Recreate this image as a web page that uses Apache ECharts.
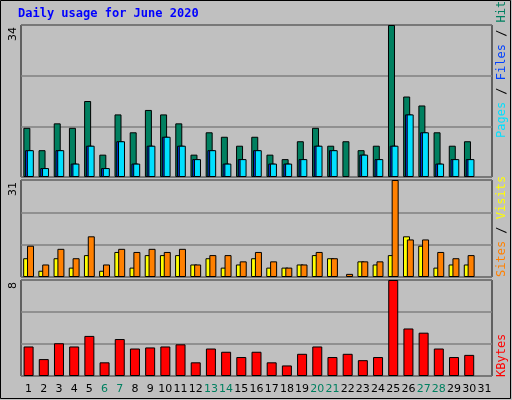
<!DOCTYPE html>
<html><head><meta charset="utf-8">
<script src="https://cdn.jsdelivr.net/npm/echarts@6/dist/echarts.min.js"></script>
<style>html,body{margin:0;padding:0;background:#c0c0c0}#c{width:512px;height:400px}</style>
</head><body><div id="c"></div>
<script>
const days = Array.from({length:31},(_,i)=>String(i+1));
const weekend = ['6','7','13','14','20','21','27','28'];
const hits  = [11,6,12,11,17,5,14,10,15,14,12,5,10,9,7,9,5,4,8,11,7,8,6,7,34,18,16,10,7,8,0];
const files = [6,2,6,3,7,2,8,3,7,9,7,4,6,3,4,6,3,3,4,7,6,0,5,4,7,14,10,3,4,4,0];
const pages = [6,2,6,3,7,2,8,3,7,9,7,4,6,3,4,6,3,3,4,7,6,0,5,4,7,14,10,3,4,4,0];
const sites = [6,2,6,3,7,2,8,3,7,7,7,4,6,3,4,6,3,3,4,7,6,0,5,4,7,13,10,3,4,4,0];
const visits= [10,4,9,6,13,4,9,8,9,8,9,4,7,7,5,8,5,3,4,8,6,1,5,5,31,12,12,8,6,7,0];
const kbytes= [2.46,1.41,2.73,2.46,3.34,1.14,3.08,2.29,2.38,2.46,2.64,1.14,2.29,2.02,1.58,2.02,1.14,0.88,1.85,2.46,1.58,1.85,1.32,1.58,8.0,3.96,3.61,2.29,1.58,1.76,0];
const maxHits=34, maxVisits=31, maxKb=8;
const nz = a => a.map(v => v === 0 ? null : v);

const bs = {borderColor:'#000',borderWidth:1};
const grids=[{left:21,right:20,top:25,height:152},{left:21,right:20,top:180,height:97},{left:21,right:20,top:280,height:96}]
 .map(g=>Object.assign(g,{show:true,borderColor:'#000',borderWidth:1,backgroundColor:'#c0c0c0'}));
const xAxes=[0,1,2].map(i=>({type:'category',gridIndex:i,data:days,axisLine:{show:false},axisTick:{show:false},
  axisLabel:i===2?{show:true,margin:8,fontFamily:'DejaVu Sans',fontSize:11,interval:0,
   formatter:v=>weekend.includes(v)?'{w|'+v+'}':'{n|'+v+'}',rich:{w:{color:'#008060',fontSize:11},n:{color:'#000',fontSize:11}}}:{show:false}}));
const yAxes=[maxHits,maxVisits,maxKb].map((m,i)=>({type:'value',gridIndex:i,min:0,max:m,interval:m/3,
  axisLabel:{show:false},axisLine:{show:false},axisTick:{show:false},splitLine:{lineStyle:{color:'#808080',width:1.5}}}));
const chart=echarts.init(document.getElementById('c'));
const mono='DejaVu Sans Mono';
chart.setOption({
 animation:false,backgroundColor:'#c0c0c0',
 grid:grids,xAxis:xAxes,yAxis:yAxes,
 series:[
  {type:'bar',xAxisIndex:0,yAxisIndex:0,data:nz(hits),barWidth:7,barGap:'-75%',itemStyle:Object.assign({color:'#008060'},bs)},
  {type:'bar',xAxisIndex:0,yAxisIndex:0,data:nz(files),barWidth:7,barGap:'-75%',itemStyle:Object.assign({color:'#0040ff'},bs)},
  {type:'bar',xAxisIndex:0,yAxisIndex:0,data:nz(pages),barWidth:7,barGap:'-75%',itemStyle:Object.assign({color:'#00e0ff'},bs)},
  {type:'bar',xAxisIndex:1,yAxisIndex:1,data:nz(sites),barWidth:7,barGap:'-45%',itemStyle:Object.assign({color:'#ffff00'},bs)},
  {type:'bar',xAxisIndex:1,yAxisIndex:1,data:nz(visits),barWidth:7,barGap:'-45%',itemStyle:Object.assign({color:'#ff8000'},bs)},
  {type:'bar',xAxisIndex:2,yAxisIndex:2,data:nz(kbytes),barWidth:10,itemStyle:Object.assign({color:'#ff0000'},bs)}
 ],
 graphic:[
  {type:'rect',shape:{x:0.5,y:0.5,width:510,height:398},style:{fill:'none',stroke:'#000',lineWidth:1}},
  {type:'text',left:18,top:8,style:{text:'Daily usage for June 2020',fill:'#0000ff',font:'bold 12px '+mono}},
  {type:'text',x:8,y:27,rotation:Math.PI/2,style:{text:String(maxHits),fill:'#000',font:'11px DejaVu Sans',textAlign:'right',textVerticalAlign:'top'}},
  {type:'text',x:8,y:182,rotation:Math.PI/2,style:{text:String(maxVisits),fill:'#000',font:'11px DejaVu Sans',textAlign:'right',textVerticalAlign:'top'}},
  {type:'text',x:8,y:282,rotation:Math.PI/2,style:{text:String(maxKb),fill:'#000',font:'11px DejaVu Sans',textAlign:'right',textVerticalAlign:'top'}},
  {type:'text',x:502,y:138,rotation:Math.PI/2,style:{text:'{a|Pages}{s| / }{b|Files}{s| / }{c|Hits}',textAlign:'left',textVerticalAlign:'middle',
    rich:{a:{fill:'#00e0ff',font:'12px '+mono},b:{fill:'#0040ff',font:'12px '+mono},c:{fill:'#008060',font:'12px '+mono},s:{fill:'#000',font:'12px '+mono}}}},
  {type:'text',x:502,y:277,rotation:Math.PI/2,style:{text:'{a|Sites}{s| / }{b|Visits}',textAlign:'left',textVerticalAlign:'middle',
    rich:{a:{fill:'#ff8000',font:'12px '+mono},b:{fill:'#ffff00',font:'12px '+mono},s:{fill:'#000',font:'12px '+mono}}}},
  {type:'text',x:502,y:377,rotation:Math.PI/2,style:{text:'KBytes',fill:'#ff0000',font:'12px '+mono,textAlign:'left',textVerticalAlign:'middle'}}
 ]
});
</script></body></html>
